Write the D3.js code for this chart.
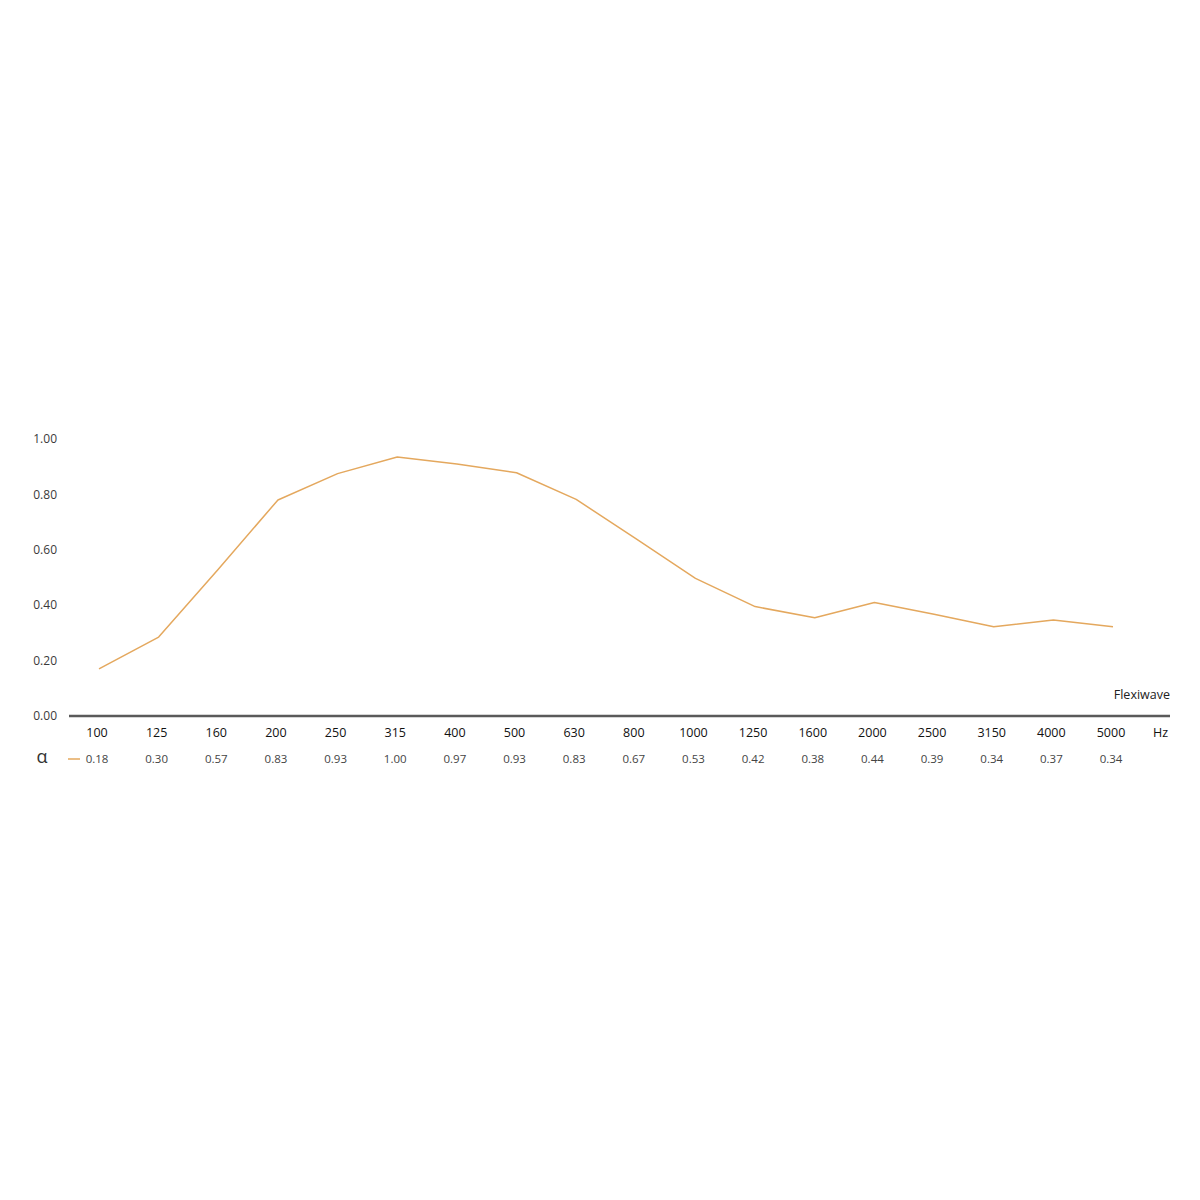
<!DOCTYPE html>
<html>
<head>
<meta charset="utf-8">
<script src="https://cdn.jsdelivr.net/npm/d3@7"></script>
<style>
  html, body { margin: 0; padding: 0; background: #fff; }
  svg { display: block; }
  text { font-family: "Open Sans", "Noto Sans", sans-serif; }
</style>
</head>
<body>
<svg id="chart" width="1200" height="1200"></svg>
<script>
// Frequency bands (Hz)
const categories = ["100","125","160","200","250","315","400","500","630","800","1000","1250","1600","2000","2500","3150","4000","5000"];
// Curve as drawn in the chart
const curveValues = [0.17, 0.285, 0.53, 0.78, 0.875, 0.935, 0.91, 0.878, 0.782, 0.64, 0.497, 0.395, 0.355, 0.41, 0.367, 0.322, 0.347, 0.322];
// Absorption coefficients printed in table row
const alphaLabels = ["0.18","0.30","0.57","0.83","0.93","1.00","0.97","0.93","0.83","0.67","0.53","0.42","0.38","0.44","0.39","0.34","0.37","0.34"];
const yTicks = [0, 0.2, 0.4, 0.6, 0.8, 1.0];
const seriesName = "Flexiwave";

const svg = d3.select("#chart");
const x = d3.scalePoint().domain(categories).range([97, 1111]);
const y = d3.scaleLinear().domain([0, 1]).range([716, 439]);

// Y tick labels
svg.append("g").selectAll("text").data(yTicks).join("text")
  .attr("x", 57).attr("y", d => y(d)).attr("dy", "0.35em")
  .attr("text-anchor", "end")
  .attr("font-size", 12).attr("fill", "#3a3a3a")
  .text(d => d3.format(".2f")(d));

// Baseline axis
svg.append("line")
  .attr("x1", 69).attr("x2", 1170).attr("y1", y(0)).attr("y2", y(0))
  .attr("stroke", "#5a5a5a").attr("stroke-width", 2.5);

// Curve
const line = d3.line().x((d, i) => x(categories[i]) + 2).y(d => y(d));
svg.append("path").datum(curveValues)
  .attr("d", line)
  .attr("fill", "none").attr("stroke", "#e4a85e").attr("stroke-width", 1.5)
  .attr("stroke-linejoin", "round");

// Series label
svg.append("text").attr("x", 1170).attr("y", 699)
  .attr("text-anchor", "end").attr("font-size", 12.5).attr("fill", "#222")
  .text(seriesName);

// Frequency labels
svg.append("g").selectAll("text").data(categories).join("text")
  .attr("x", d => x(d)).attr("y", 737)
  .attr("text-anchor", "middle").attr("font-size", 12.5).attr("fill", "#111")
  .text(d => d);
svg.append("text").attr("x", 1168).attr("y", 737)
  .attr("text-anchor", "end").attr("font-size", 12.5).attr("fill", "#111")
  .text("Hz");

// Alpha row
svg.append("text").attr("x", 42).attr("y", 763)
  .attr("text-anchor", "middle").attr("font-size", 18).attr("fill", "#333")
  .text("α");
svg.append("line").attr("x1", 68).attr("x2", 80).attr("y1", 759).attr("y2", 759)
  .attr("stroke", "#e4a85e").attr("stroke-width", 1.5);
svg.append("g").selectAll("text").data(alphaLabels).join("text")
  .attr("x", (d, i) => x(categories[i])).attr("y", 763)
  .attr("text-anchor", "middle").attr("font-size", 11.5).attr("fill", "#444")
  .text(d => d);
</script>
</body>
</html>
